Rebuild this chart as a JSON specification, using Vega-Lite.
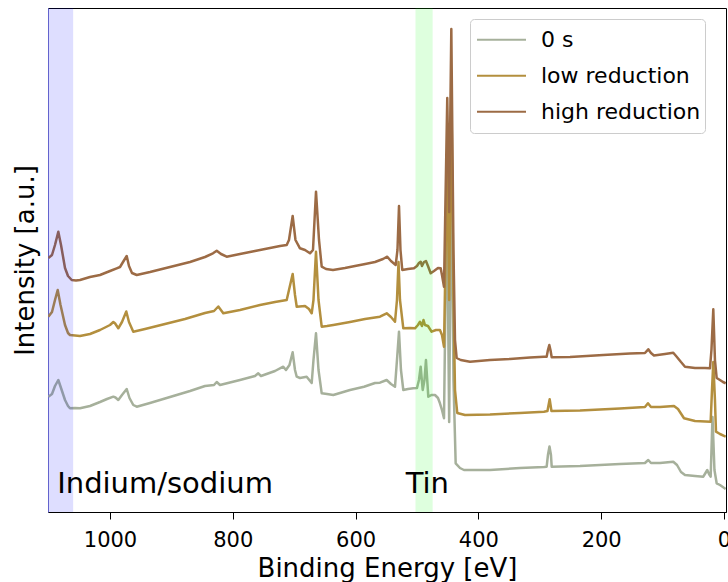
{
  "$schema": "https://vega.github.io/schema/vega-lite/v6.json",
  "width": 678,
  "height": 504,
  "autosize": {"type": "none"},
  "padding": {"left": 48, "top": 8, "right": 2, "bottom": 70},
  "background": "white",
  "config": {
    "view": {"stroke": "#000000", "strokeWidth": 1},
    "font": "DejaVu Sans",
    "axis": {"grid": false, "labelFont": "DejaVu Sans", "titleFont": "DejaVu Sans", "titleFontWeight": "normal", "labelColor": "#000", "titleColor": "#000", "domainColor": "#000", "tickColor": "#000"}
  },
  "datasets": {
    "bands": [
      {"region": "In/Na", "from": 1101, "to": 1060},
      {"region": "Sn", "from": 502.5, "to": 474.5}
    ],
    "labels": [
      {"text": "Indium/sodium", "energy": 1086, "intensity": 19.5},
      {"text": "Tin", "energy": 518.4, "intensity": 19.5}
    ]
  },
  "layer": [
    {
      "data": {"values": [
        {"series":"0 s","energy":1100.5,"intensity":115.3},{"series":"0 s","energy":1094.5,"intensity":118},{"series":"0 s","energy":1089.6,"intensity":126},{"series":"0 s","energy":1084.2,"intensity":132},{"series":"0 s","energy":1079.8,"intensity":124},{"series":"0 s","energy":1073.3,"intensity":112},{"series":"0 s","energy":1068.4,"intensity":106},{"series":"0 s","energy":1065.2,"intensity":103.7},{"series":"0 s","energy":1057.0,"intensity":104},{"series":"0 s","energy":1048.9,"intensity":103.7},{"series":"0 s","energy":1032.6,"intensity":106},{"series":"0 s","energy":1016.3,"intensity":110},{"series":"0 s","energy":1004.9,"intensity":113},{"series":"0 s","energy":994.6,"intensity":115.3},{"series":"0 s","energy":991.1,"intensity":114.5},{"series":"0 s","energy":986.5,"intensity":112},{"series":"0 s","energy":980.5,"intensity":117},{"series":"0 s","energy":972.8,"intensity":123},{"series":"0 s","energy":968.3,"intensity":114},{"series":"0 s","energy":962.1,"intensity":107},{"series":"0 s","energy":956.5,"intensity":105.3},{"series":"0 s","energy":934.9,"intensity":109},{"series":"0 s","energy":902.3,"intensity":115},{"series":"0 s","energy":869.7,"intensity":121},{"series":"0 s","energy":845.3,"intensity":126},{"series":"0 s","energy":830.6,"intensity":127},{"series":"0 s","energy":826.2,"intensity":130},{"series":"0 s","energy":820.9,"intensity":127},{"series":"0 s","energy":788.3,"intensity":132},{"series":"0 s","energy":763.9,"intensity":136},{"series":"0 s","energy":758.5,"intensity":138.7},{"series":"0 s","energy":754.1,"intensity":136},{"series":"0 s","energy":731.3,"intensity":141},{"series":"0 s","energy":717.8,"intensity":145.3},{"series":"0 s","energy":713.4,"intensity":142},{"series":"0 s","energy":707.7,"intensity":147},{"series":"0 s","energy":702.5,"intensity":159.7},{"series":"0 s","energy":698.7,"intensity":142},{"series":"0 s","energy":695.9,"intensity":135.3},{"series":"0 s","energy":690.6,"intensity":134},{"series":"0 s","energy":679.7,"intensity":135.3},{"series":"0 s","energy":671.5,"intensity":129},{"series":"0 s","energy":668.6,"intensity":152},{"series":"0 s","energy":664.5,"intensity":178.7},{"series":"0 s","energy":660.4,"intensity":142},{"series":"0 s","energy":655.2,"intensity":118.7},{"series":"0 s","energy":646.6,"intensity":118},{"series":"0 s","energy":636.3,"intensity":117},{"series":"0 s","energy":609.1,"intensity":122},{"series":"0 s","energy":586.3,"intensity":125.3},{"series":"0 s","energy":568.4,"intensity":129},{"series":"0 s","energy":560.3,"intensity":129.3},{"series":"0 s","energy":549.4,"intensity":132},{"series":"0 s","energy":542.4,"intensity":128},{"series":"0 s","energy":535.8,"intensity":125.3},{"series":"0 s","energy":532.6,"intensity":152},{"series":"0 s","energy":529.3,"intensity":180.3},{"series":"0 s","energy":526.1,"intensity":142},{"series":"0 s","energy":522.3,"intensity":122},{"series":"0 s","energy":514.7,"intensity":123},{"series":"0 s","energy":506.0,"intensity":123.7},{"series":"0 s","energy":500.0,"intensity":124},{"series":"0 s","energy":496.8,"intensity":132},{"series":"0 s","energy":494.0,"intensity":145.3},{"series":"0 s","energy":490.7,"intensity":122},{"series":"0 s","energy":487.8,"intensity":132},{"series":"0 s","energy":485.4,"intensity":152},{"series":"0 s","energy":481.6,"intensity":115.3},{"series":"0 s","energy":476.4,"intensity":117},{"series":"0 s","energy":470.7,"intensity":117},{"series":"0 s","energy":465.8,"intensity":114},{"series":"0 s","energy":462.6,"intensity":108.7},{"series":"0 s","energy":459.3,"intensity":102},{"series":"0 s","energy":456.0,"intensity":93.7},{"series":"0 s","energy":453.6,"intensity":212},{"series":"0 s","energy":450.7,"intensity":292},{"series":"0 s","energy":447.6,"intensity":90},{"series":"0 s","energy":444.1,"intensity":362},{"series":"0 s","energy":440.6,"intensity":132},{"series":"0 s","energy":437.0,"intensity":48.7},{"series":"0 s","energy":430.0,"intensity":44},{"series":"0 s","energy":423.5,"intensity":42},{"series":"0 s","energy":381.1,"intensity":42},{"series":"0 s","energy":332.3,"intensity":44},{"series":"0 s","energy":293.2,"intensity":45},{"series":"0 s","energy":288.8,"intensity":45.3},{"series":"0 s","energy":286.7,"intensity":57},{"series":"0 s","energy":284.2,"intensity":65.5},{"series":"0 s","energy":281.8,"intensity":57},{"series":"0 s","energy":280.6,"intensity":45.3},{"series":"0 s","energy":234.5,"intensity":46},{"series":"0 s","energy":169.4,"intensity":48},{"series":"0 s","energy":128.7,"intensity":49},{"series":"0 s","energy":123.3,"intensity":52},{"series":"0 s","energy":118.9,"intensity":49},{"series":"0 s","energy":104.2,"intensity":49},{"series":"0 s","energy":82.6,"intensity":50.3},{"series":"0 s","energy":76.5,"intensity":47},{"series":"0 s","energy":70.0,"intensity":40},{"series":"0 s","energy":63.5,"intensity":37},{"series":"0 s","energy":47.2,"intensity":36},{"series":"0 s","energy":33.7,"intensity":35.3},{"series":"0 s","energy":30.1,"intensity":39},{"series":"0 s","energy":27.2,"intensity":42},{"series":"0 s","energy":24.4,"intensity":38},{"series":"0 s","energy":21.7,"intensity":35.3},{"series":"0 s","energy":18.7,"intensity":95},{"series":"0 s","energy":15.5,"intensity":42},{"series":"0 s","energy":11.9,"intensity":28.7},{"series":"0 s","energy":6.5,"intensity":27},{"series":"0 s","energy":-2.8,"intensity":23},

        {"series":"low reduction","energy":1100.5,"intensity":195.3},{"series":"low reduction","energy":1094.5,"intensity":200},{"series":"low reduction","energy":1089.6,"intensity":212},{"series":"low reduction","energy":1085.2,"intensity":222},{"series":"low reduction","energy":1080.6,"intensity":207},{"series":"low reduction","energy":1073.3,"intensity":187},{"series":"low reduction","energy":1068.4,"intensity":179},{"series":"low reduction","energy":1065.2,"intensity":177},{"series":"low reduction","energy":1057.0,"intensity":176.5},{"series":"low reduction","energy":1048.9,"intensity":176},{"series":"low reduction","energy":1032.6,"intensity":178},{"series":"low reduction","energy":1016.3,"intensity":182},{"series":"low reduction","energy":1006.5,"intensity":185},{"series":"low reduction","energy":1000.0,"intensity":187},{"series":"low reduction","energy":994.6,"intensity":190},{"series":"low reduction","energy":991.9,"intensity":188.7},{"series":"low reduction","energy":986.5,"intensity":183.7},{"series":"low reduction","energy":980.5,"intensity":190},{"series":"low reduction","energy":973.5,"intensity":200.5},{"series":"low reduction","energy":969.1,"intensity":190},{"series":"low reduction","energy":962.1,"intensity":180.3},{"series":"low reduction","energy":943.0,"intensity":183},{"series":"low reduction","energy":910.4,"intensity":188},{"series":"low reduction","energy":877.9,"intensity":193},{"series":"low reduction","energy":845.3,"intensity":199},{"series":"low reduction","energy":830.6,"intensity":201},{"series":"low reduction","energy":823.6,"intensity":205.5},{"series":"low reduction","energy":815.5,"intensity":198.7},{"series":"low reduction","energy":788.3,"intensity":202},{"series":"low reduction","energy":755.7,"intensity":207},{"series":"low reduction","energy":731.3,"intensity":210},{"series":"low reduction","energy":712.2,"intensity":212},{"series":"low reduction","energy":708.5,"intensity":222},{"series":"low reduction","energy":702.5,"intensity":238},{"series":"low reduction","energy":698.7,"intensity":217},{"series":"low reduction","energy":695.9,"intensity":205.3},{"series":"low reduction","energy":682.4,"intensity":206},{"series":"low reduction","energy":675.9,"intensity":203},{"series":"low reduction","energy":671.5,"intensity":198.7},{"series":"low reduction","energy":668.6,"intensity":212},{"series":"low reduction","energy":664.5,"intensity":260.3},{"series":"low reduction","energy":660.4,"intensity":212},{"series":"low reduction","energy":655.2,"intensity":185.3},{"series":"low reduction","energy":646.6,"intensity":186},{"series":"low reduction","energy":636.3,"intensity":187},{"series":"low reduction","energy":609.1,"intensity":190},{"series":"low reduction","energy":584.7,"intensity":193},{"series":"low reduction","energy":560.3,"intensity":195.3},{"series":"low reduction","energy":549.4,"intensity":198.7},{"series":"low reduction","energy":542.4,"intensity":195},{"series":"low reduction","energy":535.8,"intensity":190.3},{"series":"low reduction","energy":532.6,"intensity":212},{"series":"low reduction","energy":530.1,"intensity":250},{"series":"low reduction","energy":527.7,"intensity":212},{"series":"low reduction","energy":522.3,"intensity":183.7},{"series":"low reduction","energy":511.4,"intensity":184},{"series":"low reduction","energy":503.3,"intensity":183.7},{"series":"low reduction","energy":498.4,"intensity":187},{"series":"low reduction","energy":495.1,"intensity":190.3},{"series":"low reduction","energy":491.9,"intensity":186},{"series":"low reduction","energy":489.4,"intensity":192},{"series":"low reduction","energy":487.0,"intensity":187},{"series":"low reduction","energy":482.1,"intensity":186},{"series":"low reduction","energy":476.1,"intensity":180.3},{"series":"low reduction","energy":469.1,"intensity":182},{"series":"low reduction","energy":462.6,"intensity":182},{"series":"low reduction","energy":459.3,"intensity":177},{"series":"low reduction","energy":456.0,"intensity":165.3},{"series":"low reduction","energy":453.6,"intensity":252},{"series":"low reduction","energy":450.7,"intensity":352},{"series":"low reduction","energy":447.6,"intensity":212},{"series":"low reduction","energy":444.1,"intensity":427},{"series":"low reduction","energy":440.6,"intensity":212},{"series":"low reduction","energy":438.1,"intensity":122},{"series":"low reduction","energy":434.4,"intensity":99},{"series":"low reduction","energy":421.8,"intensity":97},{"series":"low reduction","energy":381.1,"intensity":97.5},{"series":"low reduction","energy":332.3,"intensity":99},{"series":"low reduction","energy":293.2,"intensity":100.3},{"series":"low reduction","energy":287.5,"intensity":101},{"series":"low reduction","energy":283.9,"intensity":112.7},{"series":"low reduction","energy":281.0,"intensity":101},{"series":"low reduction","energy":234.5,"intensity":101.5},{"series":"low reduction","energy":169.4,"intensity":103.5},{"series":"low reduction","energy":128.7,"intensity":105},{"series":"low reduction","energy":123.8,"intensity":108.7},{"series":"low reduction","energy":118.9,"intensity":105},{"series":"low reduction","energy":104.2,"intensity":105},{"series":"low reduction","energy":81.4,"intensity":106},{"series":"low reduction","energy":74.9,"intensity":103},{"series":"low reduction","energy":65.1,"intensity":93.7},{"series":"low reduction","energy":47.2,"intensity":91},{"series":"low reduction","energy":21.7,"intensity":90.3},{"series":"low reduction","energy":19.5,"intensity":122},{"series":"low reduction","energy":17.4,"intensity":150},{"series":"low reduction","energy":14.7,"intensity":112},{"series":"low reduction","energy":13.0,"intensity":80.3},{"series":"low reduction","energy":6.5,"intensity":78},{"series":"low reduction","energy":-2.8,"intensity":75.3},

        {"series":"high reduction","energy":1100.5,"intensity":254},{"series":"high reduction","energy":1094.5,"intensity":257},{"series":"high reduction","energy":1089.6,"intensity":267},{"series":"high reduction","energy":1084.2,"intensity":280.3},{"series":"high reduction","energy":1079.8,"intensity":267},{"series":"high reduction","energy":1073.3,"intensity":244},{"series":"high reduction","energy":1068.4,"intensity":236},{"series":"high reduction","energy":1062.4,"intensity":232},{"series":"high reduction","energy":1055.4,"intensity":231.5},{"series":"high reduction","energy":1048.9,"intensity":232},{"series":"high reduction","energy":1032.6,"intensity":235},{"series":"high reduction","energy":1016.3,"intensity":237},{"series":"high reduction","energy":1000.0,"intensity":241},{"series":"high reduction","energy":989.1,"intensity":243.7},{"series":"high reduction","energy":983.7,"intensity":245},{"series":"high reduction","energy":978.8,"intensity":250},{"series":"high reduction","energy":972.8,"intensity":256},{"series":"high reduction","energy":969.1,"intensity":246},{"series":"high reduction","energy":964.2,"intensity":239},{"series":"high reduction","energy":956.5,"intensity":237},{"series":"high reduction","energy":934.9,"intensity":240},{"series":"high reduction","energy":902.3,"intensity":245},{"series":"high reduction","energy":869.7,"intensity":250},{"series":"high reduction","energy":845.3,"intensity":255},{"series":"high reduction","energy":832.3,"intensity":258.7},{"series":"high reduction","energy":826.2,"intensity":261.3},{"series":"high reduction","energy":819.2,"intensity":258},{"series":"high reduction","energy":810.0,"intensity":255.3},{"series":"high reduction","energy":788.3,"intensity":258},{"series":"high reduction","energy":763.9,"intensity":261},{"series":"high reduction","energy":739.4,"intensity":264},{"series":"high reduction","energy":723.1,"intensity":266},{"series":"high reduction","energy":712.2,"intensity":267},{"series":"high reduction","energy":708.5,"intensity":272},{"series":"high reduction","energy":702.5,"intensity":296},{"series":"high reduction","energy":697.9,"intensity":272},{"series":"high reduction","energy":690.6,"intensity":263.7},{"series":"high reduction","energy":682.4,"intensity":262},{"series":"high reduction","energy":674.3,"intensity":258.7},{"series":"high reduction","energy":669.4,"intensity":262},{"series":"high reduction","energy":664.5,"intensity":320.3},{"series":"high reduction","energy":659.6,"intensity":272},{"series":"high reduction","energy":655.2,"intensity":245.3},{"series":"high reduction","energy":648.2,"intensity":243},{"series":"high reduction","energy":636.8,"intensity":242},{"series":"high reduction","energy":617.3,"intensity":244},{"series":"high reduction","energy":601.0,"intensity":246},{"series":"high reduction","energy":586.3,"intensity":247.7},{"series":"high reduction","energy":568.4,"intensity":250},{"series":"high reduction","energy":555.4,"intensity":253},{"series":"high reduction","energy":548.4,"intensity":255.3},{"series":"high reduction","energy":542.4,"intensity":251},{"series":"high reduction","energy":534.7,"intensity":247},{"series":"high reduction","energy":531.8,"intensity":262},{"series":"high reduction","energy":529.3,"intensity":306},{"series":"high reduction","energy":526.9,"intensity":262},{"series":"high reduction","energy":524.0,"intensity":242},{"series":"high reduction","energy":514.7,"intensity":243},{"series":"high reduction","energy":504.9,"intensity":243.7},{"series":"high reduction","energy":500.0,"intensity":246},{"series":"high reduction","energy":496.8,"intensity":249},{"series":"high reduction","energy":494.0,"intensity":250.3},{"series":"high reduction","energy":491.9,"intensity":246},{"series":"high reduction","energy":488.6,"intensity":250},{"series":"high reduction","energy":485.4,"intensity":251},{"series":"high reduction","energy":482.1,"intensity":246},{"series":"high reduction","energy":477.7,"intensity":238.7},{"series":"high reduction","energy":472.3,"intensity":241},{"series":"high reduction","energy":465.8,"intensity":244},{"series":"high reduction","energy":461.4,"intensity":243.7},{"series":"high reduction","energy":459.3,"intensity":237},{"series":"high reduction","energy":456.0,"intensity":225.3},{"series":"high reduction","energy":453.6,"intensity":312},{"series":"high reduction","energy":450.7,"intensity":414},{"series":"high reduction","energy":447.6,"intensity":300},{"series":"high reduction","energy":444.1,"intensity":483},{"series":"high reduction","energy":440.6,"intensity":262},{"series":"high reduction","energy":438.1,"intensity":172},{"series":"high reduction","energy":435.4,"intensity":154},{"series":"high reduction","energy":428.8,"intensity":152},{"series":"high reduction","energy":413.7,"intensity":150.3},{"series":"high reduction","energy":381.1,"intensity":152},{"series":"high reduction","energy":348.5,"intensity":153},{"series":"high reduction","energy":316.0,"intensity":154.5},{"series":"high reduction","energy":293.2,"intensity":155.3},{"series":"high reduction","energy":288.8,"intensity":155.3},{"series":"high reduction","energy":286.7,"intensity":162},{"series":"high reduction","energy":284.5,"intensity":167},{"series":"high reduction","energy":282.6,"intensity":162},{"series":"high reduction","energy":280.6,"intensity":154.7},{"series":"high reduction","energy":250.8,"intensity":155},{"series":"high reduction","energy":196.6,"intensity":157},{"series":"high reduction","energy":153.1,"intensity":158.5},{"series":"high reduction","energy":128.7,"intensity":159},{"series":"high reduction","energy":123.3,"intensity":162.7},{"series":"high reduction","energy":118.9,"intensity":159},{"series":"high reduction","energy":114.0,"intensity":156.5},{"series":"high reduction","energy":96.1,"intensity":158},{"series":"high reduction","energy":82.6,"intensity":159.3},{"series":"high reduction","energy":77.0,"intensity":155.3},{"series":"high reduction","energy":70.0,"intensity":150},{"series":"high reduction","energy":63.5,"intensity":145.3},{"series":"high reduction","energy":47.2,"intensity":144},{"series":"high reduction","energy":30.9,"intensity":144},{"series":"high reduction","energy":22.8,"intensity":143.7},{"series":"high reduction","energy":20.4,"intensity":162},{"series":"high reduction","energy":17.4,"intensity":202.7},{"series":"high reduction","energy":14.7,"intensity":152},{"series":"high reduction","energy":11.9,"intensity":134},{"series":"high reduction","energy":6.5,"intensity":132},{"series":"high reduction","energy":1.6,"intensity":130},{"series":"high reduction","energy":-2.8,"intensity":128.7}
      ]},
      "mark": {"type": "line", "strokeWidth": 2.5, "clip": true, "strokeJoin": "round"},
      "encoding": {
        "x": {"field": "energy", "type": "quantitative", "sort": null,
              "scale": {"domain": [1101, -3.3], "nice": false, "zero": false},
              "axis": {"title": "Binding Energy [eV]", "format": "d", "values": [0, 200, 400, 600, 800, 1000], "labelFontSize": 21, "titleFontSize": 26, "tickSize": 7, "labelPadding": 10, "titlePadding": 5, "labelFlush": false}},
        "y": {"field": "intensity", "type": "quantitative",
              "scale": {"domain": [0, 504], "nice": false, "zero": false},
              "axis": {"title": "Intensity [a.u.]", "labels": false, "ticks": false, "titleFontSize": 26, "titlePadding": 10, "domainColor": "#7272c6"}},
        "color": {"field": "series", "type": "nominal",
                  "scale": {"domain": ["0 s", "low reduction", "high reduction"], "range": ["#a6b09b", "#b38f3e", "#9c6b45"]},
                  "legend": {"title": null, "orient": "none", "legendX": 422, "legendY": 11, "symbolType": "stroke", "symbolSize": 2400, "symbolStrokeWidth": 2, "clipHeight": 33.5, "rowPadding": 2, "symbolOffset": 2, "labelOffset": 14, "labelFontSize": 22, "labelFont": "DejaVu Sans", "labelColor": "#000", "padding": 4, "fillColor": "rgba(255,255,255,0.8)", "strokeColor": "#cccccc", "cornerRadius": 4}},
        "detail": {"field": "series"}
      }
    },
    {
      "data": {"name": "bands"},
      "mark": {"type": "rect", "opacity": 0.13},
      "encoding": {
        "x": {"field": "from", "type": "quantitative"},
        "x2": {"field": "to"},
        "fill": {"field": "region", "type": "nominal", "scale": {"domain": ["In/Na", "Sn"], "range": ["#0000ff", "#00ff00"]}, "legend": null}
      }
    },
    {
      "data": {"name": "labels"},
      "mark": {"type": "text", "align": "left", "baseline": "alphabetic", "fontSize": 29, "font": "DejaVu Sans", "color": "#000"},
      "encoding": {
        "x": {"field": "energy", "type": "quantitative"},
        "y": {"field": "intensity", "type": "quantitative"},
        "text": {"field": "text"}
      }
    }
  ]
}
